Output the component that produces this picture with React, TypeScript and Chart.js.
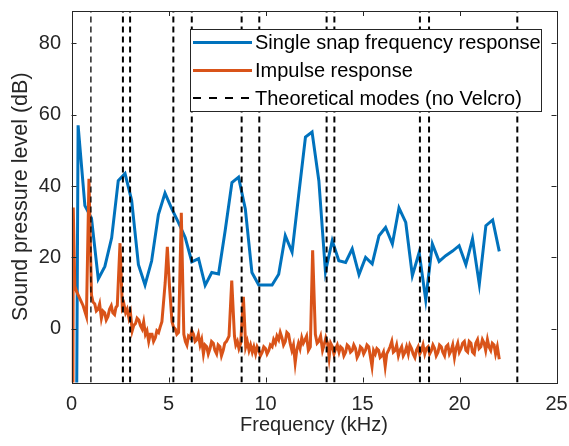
import React, { useEffect, useRef } from "react";
import { Chart, registerables } from "chart.js";

Chart.register(...registerables);

// ---------- data ----------
const snapFreqKHz = [
  0, 0.34, 0.69, 1.03, 1.38, 1.72, 2.07, 2.41, 2.76, 3.1, 3.45, 3.79, 4.13, 4.48, 4.82, 5.17, 5.51,
  5.86, 6.2, 6.55, 6.89, 7.23, 7.58, 7.92, 8.27, 8.61, 8.96, 9.3, 9.65, 9.99, 10.34, 10.68, 11.02,
  11.37, 11.71, 12.06, 12.4, 12.75, 13.09, 13.44, 13.78, 14.13, 14.47, 14.82, 15.16, 15.5, 15.85,
  16.19, 16.54, 16.88, 17.23, 17.57, 17.92, 18.26, 18.6, 18.95, 19.29, 19.64, 19.98, 20.33, 20.67,
  21.02, 21.36, 21.71, 22.05,
];
const snapLevelDb = [
  -300, 57, 34.5, 31, 14, 17.5, 25.5, 41.5, 43.5, 36, 18, 12.3, 19, 32, 38, 33.6, 29.8, 25.6, 18.8,
  19.7, 12.2, 15.8, 15.4, 27.5, 41, 42.5, 33.6, 15.8, 12.3, 12.3, 12.3, 15.3, 26.1, 21.5, 37.5, 53.7,
  55.1, 41.5, 16, 24.7, 19.1, 18.6, 22.4, 15.2, 20, 18.2, 26.1, 28.4, 23.8, 33.9, 29.8, 14.9, 21.4,
  8.1, 23.8, 18.9, 20.5, 21.8, 23.3, 18, 25.2, 12.5, 28.9, 30.5, 21.7,
];

const impulseFreqKHz = [
  0, 0.09, 0.17, 0.26, 0.43, 0.6, 0.77, 0.9, 1.03, 1.11,
  1.2, 1.28, 1.37, 1.45, 1.54, 1.62, 1.71, 1.79, 1.88, 1.96,
  2.05, 2.13, 2.22, 2.29, 2.36, 2.5, 2.62, 2.7, 2.79, 2.87,
  2.96, 3.04, 3.13, 3.21, 3.3, 3.38, 3.47, 3.55, 3.64, 3.72,
  3.81, 3.89, 3.98, 4.06, 4.15, 4.23, 4.32, 4.4, 4.49, 4.57,
  4.66, 4.83, 4.94, 5.05, 5.18, 5.26, 5.35, 5.43, 5.52, 5.66,
  5.79, 5.87, 5.95, 6.03, 6.12, 6.2, 6.29, 6.37, 6.46, 6.54,
  6.63, 6.71, 6.8, 6.88, 6.97, 7.05, 7.14, 7.22, 7.31, 7.39,
  7.48, 7.56, 7.65, 7.73, 7.82, 7.9, 7.99, 8.12, 8.26, 8.4,
  8.47, 8.55, 8.63, 8.72, 8.86, 8.98, 9.06, 9.15, 9.23, 9.32,
  9.4, 9.49, 9.57, 9.66, 9.74, 9.83, 9.91, 10.0, 10.08, 10.17,
  10.25, 10.34, 10.42, 10.51, 10.59, 10.68, 10.76, 10.85, 10.93, 11.02,
  11.1, 11.19, 11.27, 11.36, 11.44, 11.53, 11.61, 11.7, 11.78, 11.87,
  11.95, 12.04, 12.12, 12.21, 12.31, 12.43, 12.57, 12.66, 12.74, 12.84,
  12.94, 13.02, 13.11, 13.2, 13.28, 13.36, 13.45, 13.53, 13.62, 13.7,
  13.79, 13.87, 13.96, 14.04, 14.13, 14.21, 14.3, 14.38, 14.47, 14.55,
  14.64, 14.72, 14.81, 14.89, 14.98, 15.06, 15.15, 15.23, 15.32, 15.4,
  15.49, 15.57, 15.66, 15.74, 15.83, 15.91, 16.0, 16.08, 16.17, 16.25,
  16.34, 16.42, 16.51, 16.59, 16.68, 16.76, 16.85, 16.93, 17.02, 17.1,
  17.19, 17.27, 17.36, 17.44, 17.53, 17.61, 17.7, 17.78, 17.87, 17.95,
  18.04, 18.12, 18.21, 18.29, 18.38, 18.46, 18.55, 18.63, 18.72, 18.8,
  18.89, 18.97, 19.06, 19.14, 19.23, 19.31, 19.4, 19.48, 19.57, 19.65,
  19.74, 19.82, 19.91, 19.99, 20.08, 20.16, 20.25, 20.33, 20.42, 20.5,
  20.59, 20.67, 20.76, 20.84, 20.93, 21.01, 21.1, 21.18, 21.27, 21.35,
  21.44, 21.52, 21.61, 21.69, 21.78, 21.86, 21.95, 22.05,
];
const impulseLevelDb = [
  -300, 34, 12, 10.5, 8.5, 6.5, 3.5, 42, 9.5, 7.5,
  7, 5, 5.5, 7, 3, 5, 4.5, 2.5, 3.5, 5.5,
  6.5, 4.5, 4, 6, 6.5, 24, 6, 7, 4.5, 5.5,
  3, 4.5, -0.5, 1, 1.5, 3, 2.5, 1, 0, 2,
  -1.5, -0.5, -3.5, -1.5, -1.5, -3.5, -2.5, -0.5, -1, 0.5,
  2, 13, 23, 12, 2, 0.5, 0, -1.5, -1, 32.5,
  -1.5, -3.5, -4.5, -2, -2.5, -0.5, -1.5, -3.5, -3, -1.5,
  -4.5, -3, -7, -4.5, -5, -7, -5.5, -3.5, -4, -6,
  -7, -4.5, -5, -7.5, -6, -4, -3.5, -2, 13.5, -2,
  -4.5, -3.5, -5.5, -4, 9, -5, -3.5, -6, -4.5, -6.5,
  -5, -7, -5, -6, -7.5, -6.5, -5, -5.5, -7, -6,
  -4.5, -5, -3, -4, -2, -3, -1, -2.5, -4.5, -3.5,
  -1, -1.5, -4, -6, -4.5, -9.5, -6, -4, -5.5, -2.5,
  -4, -3, -2, -6, -5, 22, -1.5, -4, -3.5, -2,
  -6, -4.5, -2.5, -4, -8, -4, -5, -7, -5.5, -4.5,
  -6.5, -5, -5.5, -7.5, -6.5, -4.5, -5, -6.5, -6, -4.5,
  -5.5, -8, -7, -5, -5.5, -7, -6, -4.5, -5, -7.5,
  -10.5, -6, -7, -5.5, -6, -8, -7.5, -6.5, -10.5, -7,
  -6, -5, -3.5, -6.5, -6, -4.5, -7.5, -6, -5, -7.5,
  -6.5, -5, -7, -4.5, -5.5, -7, -8, -6, -5, -7,
  -6, -4.5, -7, -5.5, -5, -7, -6, -4.5, -5.5, -7.5,
  -6.5, -4.5, -5, -6.5, -7.5, -5, -4.5, -7, -6, -4.5,
  -8, -5.5, -4, -6.5, -5.5, -4, -3.5, -6, -6.5, -3.5,
  -4, -6.5, -7, -4, -3, -5.5, -5, -3, -4, -6,
  -3, -5, -6, -4, -4.5, -7, -5, -8.5,
];

const modeFreqKHz = [1.0, 2.65, 3.02, 5.25, 6.2, 8.77, 9.68, 13.15, 13.55, 17.96, 18.43, 22.98];

const xTickValues = [0, 5, 10, 15, 20, 25];
const yTickValues = [0, 20, 40, 60, 80];
const xLimits = [0, 25];
const yLimits = [-15, 89];

const seriesNames = [
  "Single snap frequency response",
  "Impulse response",
  "Theoretical modes (no Velcro)",
];
const xAxisTitle = "Frequency (kHz)";
const yAxisTitle = "Sound pressure level (dB)";

// ---------- styling ----------
const FONT = "'Liberation Sans', Arial, Helvetica, sans-serif";
const AXIS_COLOR = "#262626";
const BLUE = "#0072BD";
const ORANGE = "#D95319";

const boxAndTicksPlugin = {
  id: "boxAndTicks",
  afterDatasetsDraw(chart: any) {
    const { ctx, chartArea } = chart;
    const { left, right, top, bottom } = chartArea;
    const xs = chart.scales.x;
    const ys = chart.scales.y;
    const tl = 5;
    ctx.save();
    ctx.strokeStyle = AXIS_COLOR;
    ctx.lineWidth = 1;
    ctx.beginPath();
    for (const v of xTickValues) {
      const px = Math.round(xs.getPixelForValue(v)) + 0.5;
      ctx.moveTo(px, bottom);
      ctx.lineTo(px, bottom - tl);
      ctx.moveTo(px, top);
      ctx.lineTo(px, top + tl);
    }
    for (const v of yTickValues) {
      const py = Math.round(ys.getPixelForValue(v)) + 0.5;
      ctx.moveTo(left, py);
      ctx.lineTo(left + tl, py);
      ctx.moveTo(right, py);
      ctx.lineTo(right - tl, py);
    }
    ctx.stroke();
    ctx.strokeRect(Math.round(left) + 0.5, Math.round(top) + 0.5, Math.round(right - left), Math.round(bottom - top));
    ctx.restore();
  },
  afterDraw(chart: any) {
    const { ctx } = chart;
    const boxL = 190.5;
    const boxT = 29.5;
    const boxR = 541.5;
    const boxB = 111.5;
    const rows = [42.5, 70.5, 98];
    ctx.save();
    ctx.fillStyle = "#ffffff";
    ctx.fillRect(boxL, boxT, boxR - boxL, boxB - boxT);
    ctx.strokeStyle = AXIS_COLOR;
    ctx.lineWidth = 1;
    ctx.strokeRect(boxL, boxT, boxR - boxL, boxB - boxT);
    const entries = chart.data.datasets.filter((d: any) => d.inLegend);
    entries.forEach((d: any, i: number) => {
      const y = rows[i];
      ctx.beginPath();
      ctx.strokeStyle = d.borderColor;
      ctx.lineWidth = d.legendWidth || d.borderWidth;
      ctx.setLineDash(d.legendDash || []);
      ctx.moveTo(193, y);
      ctx.lineTo(252, y);
      ctx.stroke();
      ctx.setLineDash([]);
      ctx.fillStyle = "#000000";
      ctx.font = `20px ${FONT}`;
      ctx.textAlign = "left";
      ctx.textBaseline = "middle";
      ctx.fillText(d.label, 255, y + 1);
    });
    ctx.restore();
  },
};

const zeroPadding = (scale: any) => {
  scale.paddingTop = 0;
  scale.paddingBottom = 0;
  scale.paddingLeft = 0;
  scale.paddingRight = 0;
};

export default function App() {
  const canvasRef = useRef<HTMLCanvasElement | null>(null);

  useEffect(() => {
    document.body.style.margin = "0";
    const canvas = canvasRef.current;
    if (!canvas) return;

    const snapData = snapFreqKHz.map((f, i) => ({ x: f, y: snapLevelDb[i] }));
    const impulseData = impulseFreqKHz.map((f, i) => ({ x: f, y: impulseLevelDb[i] }));

    const modeSets = modeFreqKHz.map((f, i) => ({
      label: seriesNames[2],
      inLegend: i === 0,
      legendDash: [8, 8],
      legendWidth: 2,
      data: [
        { x: f, y: yLimits[0] },
        { x: f, y: yLimits[1] },
      ],
      borderColor: "#000000",
      borderWidth: i === 0 ? 1.3 : 2,
      borderDash: [6, 4],
      pointRadius: 0,
      order: 0,
      clip: 0,
    }));

    const chart = new Chart(canvas, {
      type: "line",
      data: {
        datasets: [
          {
            label: seriesNames[0],
            inLegend: true,
            data: snapData,
            borderColor: BLUE,
            borderWidth: 3,
            pointRadius: 0,
            tension: 0,
            order: 2,
            clip: 0,
          } as any,
          {
            label: seriesNames[1],
            inLegend: true,
            data: impulseData,
            borderColor: ORANGE,
            borderWidth: 3,
            pointRadius: 0,
            tension: 0,
            order: 1,
            clip: 0,
          } as any,
          ...(modeSets as any[]),
        ],
      },
      options: {
        responsive: false,
        animation: false,
        events: [],
        layout: { padding: { left: 0, right: 12.5, top: 11, bottom: 0 } },
        plugins: {
          legend: { display: false },
          tooltip: { enabled: false },
          title: { display: false },
        },
        scales: {
          x: {
            type: "linear",
            min: xLimits[0],
            max: xLimits[1],
            grid: { display: false, drawTicks: false },
            border: { display: false },
            afterBuildTicks: (scale: any) => {
              scale.ticks = xTickValues.map((v) => ({ value: v }));
            },
            afterFit: (scale: any) => {
              scale.height = 63.5;
              zeroPadding(scale);
            },
            ticks: {
              color: AXIS_COLOR,
              font: { family: FONT, size: 20 },
              padding: 10,
              maxRotation: 0,
              autoSkip: false,
            },
            title: {
              display: true,
              text: xAxisTitle,
              color: AXIS_COLOR,
              font: { family: FONT, size: 20 },
              padding: { top: 0, bottom: 9 },
            },
          },
          y: {
            type: "linear",
            min: yLimits[0],
            max: yLimits[1],
            grid: { display: false, drawTicks: false },
            border: { display: false },
            afterBuildTicks: (scale: any) => {
              scale.ticks = yTickValues.map((v) => ({ value: v }));
            },
            afterFit: (scale: any) => {
              scale.width = 71.5;
              zeroPadding(scale);
            },
            ticks: {
              color: AXIS_COLOR,
              font: { family: FONT, size: 20 },
              padding: 10.5,
              autoSkip: false,
            },
            title: {
              display: true,
              text: yAxisTitle,
              color: AXIS_COLOR,
              font: { family: FONT, size: 21.5 },
              padding: { top: 8.5, bottom: 0 },
            },
          },
        },
      },
      plugins: [boxAndTicksPlugin],
    } as any);

    return () => {
      chart.destroy();
    };
  }, []);

  return (
    <div style={{ width: 569, height: 446, background: "#ffffff" }}>
      <canvas ref={canvasRef} width={569} height={446} style={{ display: "block" }} />
    </div>
  );
}
